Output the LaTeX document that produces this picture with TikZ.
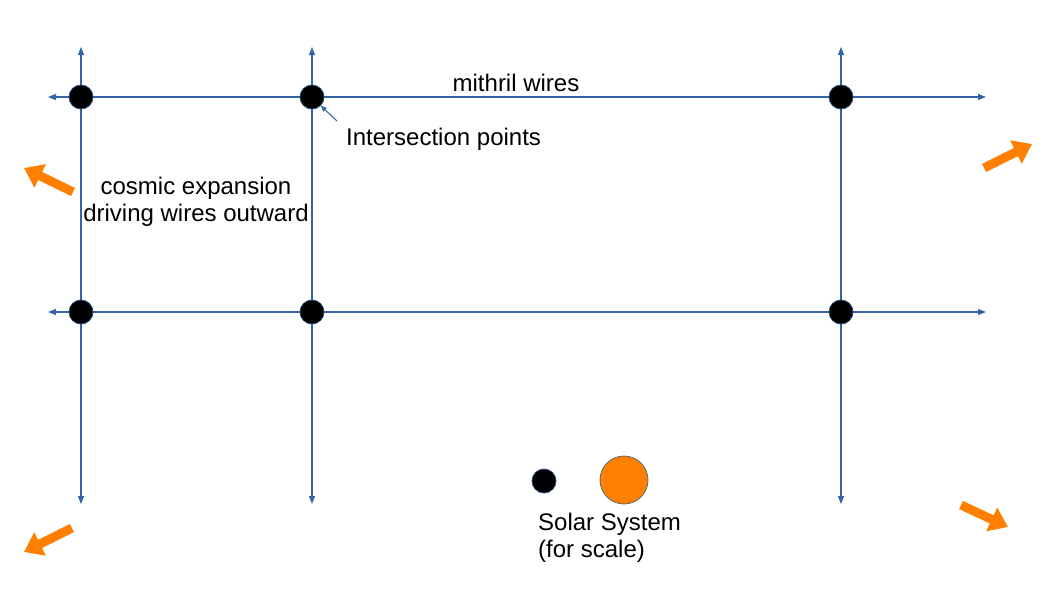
\documentclass[tikz,border=0pt]{standalone}
\usepackage{fontspec}
\setmainfont{Liberation Sans}
\usetikzlibrary{arrows.meta}
\definecolor{wireblue}{HTML}{3465A4}
\definecolor{orng}{HTML}{FF8000}
\begin{document}
\begin{tikzpicture}[x=1pt,y=-1pt,
  wire/.style={draw=wireblue,line width=1.2pt,{Triangle[width=6pt,length=8pt]}-{Triangle[width=6pt,length=8pt]}},
  dot/.style={circle,fill=black,draw=wireblue!70!black,line width=0.8pt,minimum size=24pt,inner sep=0pt},
  lbl/.style={font=\fontsize{24}{27}\selectfont,inner sep=0pt},
  push/.style={draw=orng,line width=9pt,-{Triangle[width=25pt,length=18pt]}}]
\useasboundingbox (0,0) rectangle (1058,595);
% wire end coordinates
\coordinate (v1t) at (81,47); \coordinate (v1b) at (81,504);
\coordinate (v2t) at (312,47); \coordinate (v2b) at (312,504);
\coordinate (v3t) at (841,47); \coordinate (v3b) at (841,504);
\coordinate (h1l) at (48,97); \coordinate (h1r) at (986,97);
\coordinate (h2l) at (48,312); \coordinate (h2r) at (986,312);
\draw[wire] (v1t) -- (v1b);
\draw[wire] (v2t) -- (v2b);
\draw[wire] (v3t) -- (v3b);
\draw[wire] (h1l) -- (h1r);
\draw[wire] (h2l) -- (h2r);
% intersection points
\node[dot] (p11) at (81,97) {};
\node[dot] (p12) at (312,97) {};
\node[dot] (p13) at (841,97) {};
\node[dot] (p21) at (81,312) {};
\node[dot] (p22) at (312,312) {};
\node[dot] (p23) at (841,312) {};
% labels
\node[lbl] (mw) at (516,83) {mithril wires};
\node[lbl,anchor=west] (ip) at (346,139) {Intersection points};
\coordinate (ipt) at (337,121);
\draw[wireblue,line width=1pt,-{Triangle[width=5pt,length=6pt]}] (ipt) -- (p12.-45);
\node[lbl,align=center] (ce) at (196,201.5) {cosmic expansion\\driving wires outward};
% orange push arrows
\coordinate (a1s) at (73,192); \coordinate (a1e) at (24,168);
\coordinate (a2s) at (984,168); \coordinate (a2e) at (1032,144);
\coordinate (a3s) at (72,528); \coordinate (a3e) at (24,552);
\coordinate (a4s) at (961,505); \coordinate (a4e) at (1008,527);
\draw[push] (a1s) -- (a1e);
\draw[push] (a2s) -- (a2e);
\draw[push] (a3s) -- (a3e);
\draw[push] (a4s) -- (a4e);
% solar system
\node[dot] (star) at (544,481) {};
\node[circle,fill=orng,draw=black!60,line width=0.8pt,minimum size=48pt,inner sep=0pt] (sun) at (624,480) {};
\node[lbl,align=left,anchor=north west] (ss) at (538,513) {Solar System\\(for scale)};
\end{tikzpicture}
\end{document}
